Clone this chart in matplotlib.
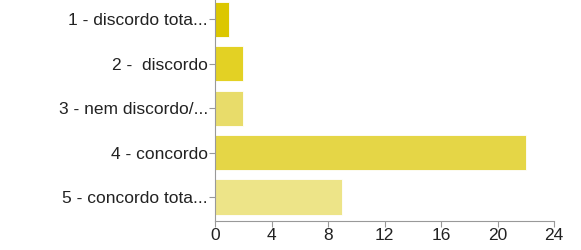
import matplotlib
matplotlib.use('Agg')
import matplotlib.pyplot as plt

# 数据
categories = ['1 - discordo tota...', '2 -  discordo', '3 - nem discordo/...',
              '4 - concordo', '5 - concordo tota...']
values = [1, 2, 2, 22, 9]
colors = ['#dcc700', '#e3d124', '#e8dc6a', '#e5d646', '#ede488']
xticks = [0, 4, 8, 12, 16, 20, 24]

plt.rcParams['font.family'] = ['Liberation Sans', 'DejaVu Sans']

fig = plt.figure(figsize=(5.81, 2.5), dpi=100)
ax = fig.add_axes([215 / 581, 29 / 250, 339 / 581, 225.5 / 250])

pos = list(range(len(categories)))
ax.barh(pos, values, height=0.79, color=colors, edgecolor='white', linewidth=0.6)
ax.set_yticks(pos)
ax.set_yticklabels(categories, fontsize=12.5, color='#222222')
ax.set_ylim(4.54, -0.54)

ax.set_xlim(0, 24)
ax.set_xticks(xticks)
ax.set_xticklabels([str(t) for t in xticks], fontsize=12.5, color='#222222')

for s in ['top', 'right']:
    ax.spines[s].set_visible(False)
for s in ['left', 'bottom']:
    ax.spines[s].set_color('#999999')
    ax.spines[s].set_linewidth(0.8)
ax.tick_params(axis='both', colors='#999999', length=4, width=0.8, labelcolor='#222222', pad=1)

fig.savefig('out.png', dpi=100)
